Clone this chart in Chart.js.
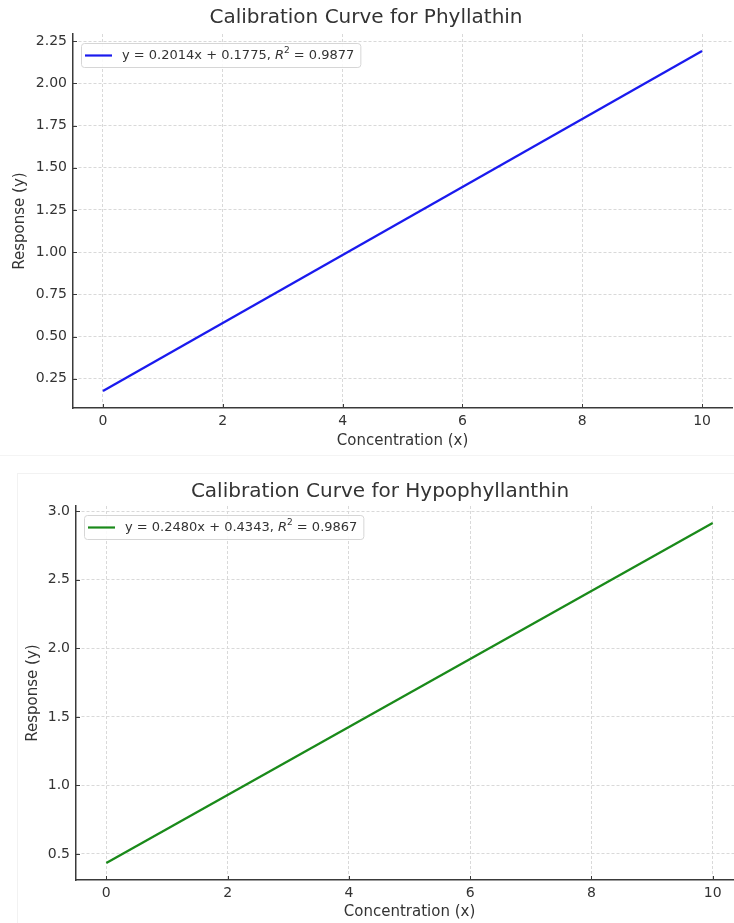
<!DOCTYPE html>
<html>
<head>
<meta charset="utf-8">
<title>Calibration curves</title>
<script src="https://cdn.jsdelivr.net/npm/chart.js@4.4.1/dist/chart.umd.min.js"></script>
<style>
    html, body { margin: 0; padding: 0; background: #ffffff; width: 734px; height: 923px; overflow: hidden; }
    .panel { position: absolute; }
    #panelTop { left: 0; top: 0; width: 734px; height: 455px; border-bottom: 1px solid #f4f4f4; }
    #panelBottom { left: 17px; top: 473px; width: 740px; height: 460px; border-left: 1px solid #f2f2f2; border-top: 1px solid #f2f2f2; }
    canvas { position: absolute; left: 0; top: 0; }
</style>
</head>
<body>
<div class="panel" id="panelTop"><canvas id="phyllChart" width="804" height="455"></canvas></div>
<div class="panel" id="panelBottom"><canvas id="hypoChart" width="785" height="450" style="left:-1px;top:-1px"></canvas></div>

<script>
    // concentration range of the standards
    var concentration = [0, 10];

    // fitted responses at each end of the range
    var phyllResponse = [0.1775, 2.1915];
    var hypoResponse = [0.4343, 2.9143];

    // fit results shown in the legends
    var phyllFit = ["0.2014", "0.1775", "0.9877"];
    var hypoFit = ["0.2480", "0.4343", "0.9867"];

    // tick labels
    var xTicks = [0, 2, 4, 6, 8, 10];
    var phyllTicks = [0.25, 0.50, 0.75, 1.00, 1.25, 1.50, 1.75, 2.00, 2.25];
    var hypoTicks = [0.5, 1.0, 1.5, 2.0, 2.5, 3.0];

    var font = '"DejaVu Sans", sans-serif';
    var textColor = "#333333";
    var gridColor = "#d9d9d9";
    var spineColor = "#3a3a3a";

    // legend box sitting inside the plot, upper left
    var eqLegend = {
        id: "eqLegend",
        afterDatasetsDraw: function (chart, args, opts) {
            var ctx = chart.ctx;
            var area = chart.chartArea;
            var color = chart.data.datasets[0].borderColor;
            var size = 13;
            var before = "y = " + opts.fit[0] + "x + " + opts.fit[1] + ", ";
            var after = " = " + opts.fit[2];

            ctx.save();
            ctx.font = size + "px " + font;
            var w1 = ctx.measureText(before).width;
            var w3 = ctx.measureText(after).width;
            ctx.font = "italic " + size + "px " + font;
            var wR = ctx.measureText("R").width;
            ctx.font = Math.round(size * 0.7) + "px " + font;
            var w2 = ctx.measureText("2").width;

            var x = area.left + 8;
            var y = area.top + 9;
            var h = 24;
            var w = 41 + w1 + wR + w2 + w3 + 6;

            ctx.beginPath();
            ctx.roundRect(x + 0.5, y + 0.5, w, h, 3);
            ctx.fillStyle = "rgba(255,255,255,0.85)";
            ctx.fill();
            ctx.strokeStyle = "#d6d6d6";
            ctx.lineWidth = 1;
            ctx.stroke();

            var mid = y + h / 2 + 0.5;
            ctx.beginPath();
            ctx.moveTo(x + 4, mid);
            ctx.lineTo(x + 31, mid);
            ctx.strokeStyle = color;
            ctx.lineWidth = 2.2;
            ctx.stroke();

            ctx.fillStyle = textColor;
            ctx.textBaseline = "middle";
            var tx = x + 41;
            ctx.font = size + "px " + font;
            ctx.fillText(before, tx, mid);
            tx += w1;
            ctx.font = "italic " + size + "px " + font;
            ctx.fillText("R", tx, mid);
            tx += wR;
            ctx.font = Math.round(size * 0.7) + "px " + font;
            ctx.fillText("2", tx, mid - 5);
            tx += w2;
            ctx.font = size + "px " + font;
            ctx.fillText(after, tx, mid);
            ctx.restore();
        }
    };

    // short tick marks pointing into the plot
    var innerTicks = {
        id: "innerTicks",
        afterDatasetsDraw: function (chart) {
            var ctx = chart.ctx;
            var area = chart.chartArea;
            var xs = chart.scales.x;
            var ys = chart.scales.y;
            ctx.save();
            ctx.strokeStyle = spineColor;
            ctx.lineWidth = 1;
            ctx.beginPath();
            xs.ticks.forEach(function (t) {
                var px = Math.round(xs.getPixelForValue(t.value)) + 0.5;
                ctx.moveTo(px, area.bottom);
                ctx.lineTo(px, area.bottom - 4);
            });
            ys.ticks.forEach(function (t) {
                var py = Math.round(ys.getPixelForValue(t.value)) + 0.5;
                ctx.moveTo(area.left, py);
                ctx.lineTo(area.left + 4, py);
            });
            ctx.stroke();
            ctx.restore();
        }
    };

    function makeChart(canvasId, cfg) {
        var points = concentration.map(function (c, i) {
            return { x: c, y: cfg.response[i] };
        });

        return new Chart(document.getElementById(canvasId), {
            type: "line",
            data: {
                datasets: [{
                    data: points,
                    borderColor: cfg.color,
                    borderWidth: 2.3,
                    pointRadius: 0,
                    fill: false,
                    tension: 0
                }]
            },
            plugins: [eqLegend, innerTicks],
            options: {
                responsive: false,
                animation: false,
                devicePixelRatio: 1,
                layout: { padding: { left: 0, right: cfg.padRight, top: 0, bottom: 0 } },
                plugins: {
                    legend: { display: false },
                    tooltip: { enabled: false },
                    title: {
                        display: true,
                        text: cfg.title,
                        color: textColor,
                        font: { family: font, size: 20, weight: "normal", lineHeight: 1.2 },
                        padding: cfg.titlePad
                    },
                    eqLegend: { fit: cfg.fit }
                },
                scales: {
                    x: {
                        type: "linear",
                        min: -0.5,
                        max: 10.5,
                        afterBuildTicks: function (axis) {
                            axis.ticks = xTicks.map(function (v) { return { value: v }; });
                        },
                        afterFit: function (axis) { axis.height = cfg.xHeight; },
                        ticks: {
                            color: textColor,
                            font: { family: font, size: 14 },
                            padding: 5,
                            maxRotation: 0
                        },
                        grid: { color: gridColor, lineWidth: 1, drawTicks: false },
                        border: { display: true, color: spineColor, width: 1.5, dash: [3, 2] },
                        title: {
                            display: true,
                            text: "Concentration (x)",
                            color: textColor,
                            font: { family: font, size: 15 },
                            padding: { top: 0, bottom: cfg.xTitlePad }
                        }
                    },
                    y: {
                        type: "linear",
                        min: cfg.yMin,
                        max: cfg.yMax,
                        afterBuildTicks: function (axis) {
                            axis.ticks = cfg.yTicks.map(function (v) { return { value: v }; });
                        },
                        afterFit: function (axis) { axis.width = cfg.yWidth; },
                        ticks: {
                            color: textColor,
                            font: { family: font, size: 14 },
                            padding: 6,
                            callback: function (v) { return v.toFixed(cfg.digits); }
                        },
                        grid: { color: gridColor, lineWidth: 1, drawTicks: false },
                        border: { display: true, color: spineColor, width: 1.5, dash: [3, 2] },
                        title: {
                            display: true,
                            text: "Response (y)",
                            color: textColor,
                            font: { family: font, size: 15 },
                            padding: { top: cfg.yTitlePad, bottom: 0 }
                        }
                    }
                }
            }
        });
    }

    makeChart("phyllChart", {
        title: "Calibration Curve for Phyllathin",
        response: phyllResponse,
        fit: phyllFit,
        color: "#1a1aee",
        yTicks: phyllTicks,
        yMin: 0.0768,
        yMax: 2.2922,
        digits: 2,
        padRight: 72,
        titlePad: { top: 6, bottom: 4 },
        xHeight: 47,
        xTitlePad: 5,
        yWidth: 73,
        yTitlePad: 11
    });

    makeChart("hypoChart", {
        title: "Calibration Curve for Hypophyllanthin",
        response: hypoResponse,
        fit: hypoFit,
        color: "#1a8a1a",
        yTicks: hypoTicks,
        yMin: 0.3103,
        yMax: 3.0383,
        digits: 1,
        padRight: 59,
        titlePad: { top: 7, bottom: 2 },
        xHeight: 43,
        xTitlePad: 2,
        yWidth: 59,
        yTitlePad: 7
    });
</script>
</body>
</html>
